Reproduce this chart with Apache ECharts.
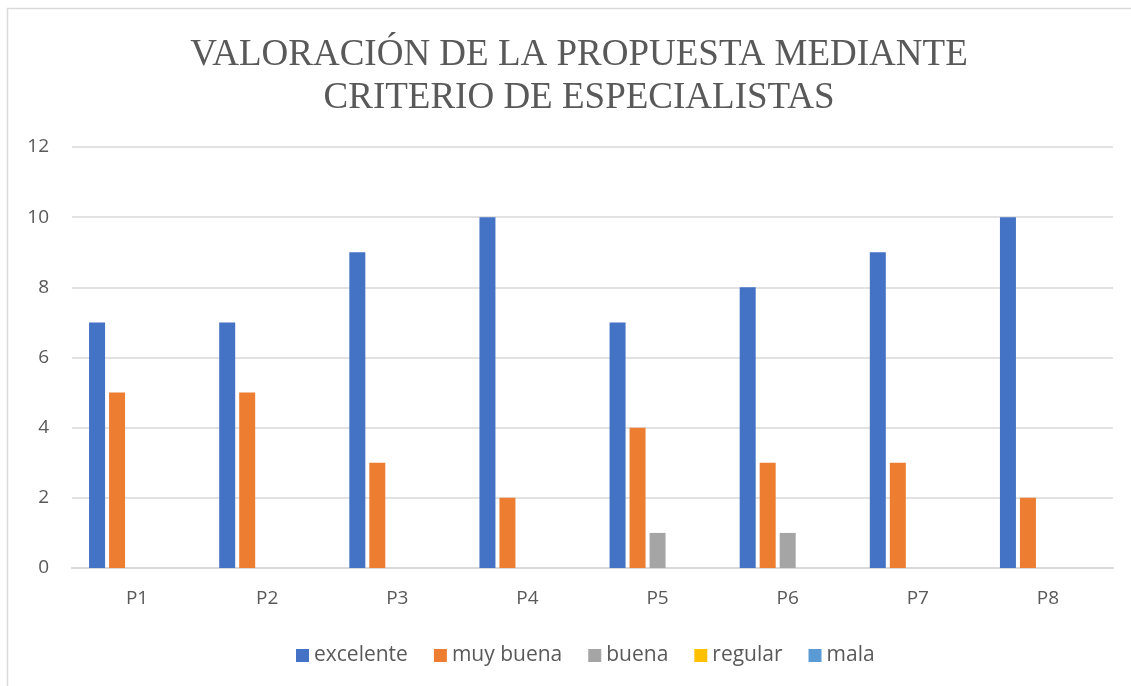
<!DOCTYPE html>
<html>
<head>
<meta charset="utf-8">
<script src="https://cdn.jsdelivr.net/npm/echarts@6/dist/echarts.min.js"></script>
<style>
  html, body { margin: 0; padding: 0; background: #fff; }
  #chart { width: 1131px; height: 686px; }
</style>
</head>
<body>
<div id="chart"></div>
<script>
  // datos
  const categories = ['P1', 'P2', 'P3', 'P4', 'P5', 'P6', 'P7', 'P8']
  const excelente = [7, 7, 9, 10, 7, 8, 9, 10]
  const muyBuena = [5, 5, 3, 2, 4, 3, 3, 2]
  const buena = [0, 0, 0, 0, 1, 1, 0, 0]
  const regular = [0, 0, 0, 0, 0, 0, 0, 0]
  const mala = [0, 0, 0, 0, 0, 0, 0, 0]
  const seriesNames = ['excelente', 'muy buena', 'buena', 'regular', 'mala']
  const seriesData = [excelente, muyBuena, buena, regular, mala]
  const colors = ['#4472C4', '#ED7D31', '#A5A5A5', '#FFC000', '#5B9BD5']

  const chart = echarts.init(document.getElementById('chart'))
  const option = {
    animation: false,
    color: colors,
    graphic: [{
      // borde del area del grafico (solo se ve arriba y a la izquierda)
      type: 'polyline',
      shape: { points: [[7.5, 686], [7.5, 8.5], [1131, 8.5]] },
      style: { fill: 'none', stroke: '#d9d9d9', lineWidth: 1.5 },
      silent: true
    }],
    title: {
      text: 'VALORACIÓN DE LA PROPUESTA MEDIANTE\nCRITERIO DE ESPECIALISTAS',
      left: 574,
      textAlign: 'center',
      top: 29,
      textStyle: {
        fontFamily: 'Liberation Serif',
        fontWeight: 'normal',
        fontSize: 37,
        lineHeight: 43,
        color: '#595959'
      }
    },
    legend: {
      top: 640,
      left: 291,
      itemWidth: 13,
      itemHeight: 13,
      itemGap: 26,
      icon: 'rect',
      textStyle: { fontFamily: 'Open Sans', fontSize: 21, color: '#595959' },
      data: seriesNames
    },
    grid: {
      left: 72,
      right: 18,
      top: 147,
      bottom: 118,
      containLabel: false
    },
    xAxis: {
      type: 'category',
      data: categories,
      axisLine: { show: true, lineStyle: { color: '#d9d9d9', width: 2 } },
      axisTick: { show: false },
      axisLabel: { fontFamily: 'Open Sans', fontSize: 19, color: '#595959', margin: 21 }
    },
    yAxis: {
      type: 'value',
      min: 0,
      max: 12,
      interval: 2,
      axisLine: { show: false },
      axisTick: { show: false },
      splitLine: { lineStyle: { color: '#d9d9d9', width: 1.5 } },
      axisLabel: { fontFamily: 'Open Sans', fontSize: 19, color: '#595959', margin: 23 }
    },
    series: seriesNames.map((name, i) => ({
      name: name,
      type: 'bar',
      data: seriesData[i],
      barWidth: 16,
      barGap: '25%',
      barCategoryGap: '26%'
    }))
  }
  chart.setOption(option)
</script>
</body>
</html>
